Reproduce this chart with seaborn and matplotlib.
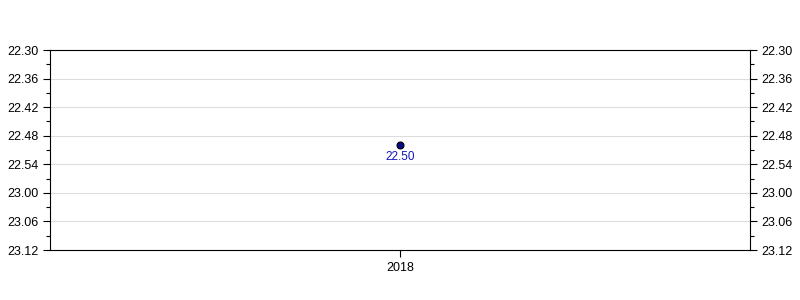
import matplotlib
matplotlib.use("Agg")
import matplotlib.pyplot as plt
import seaborn as sns
import pandas as pd
from matplotlib.ticker import FixedLocator, FuncFormatter, MultipleLocator

years = ["2018"]
times = ["22.50"]          # m.ss
tick_labels = ["22.30", "22.36", "22.42", "22.48", "22.54", "23.00", "23.06", "23.12"]

def to_sec(s):
    m, ss = s.split(".")
    return int(m) * 60 + int(ss)

def to_label(v, pos=None):
    v = int(round(v))
    return f"{v // 60}.{v % 60:02d}"

df = pd.DataFrame({"year": [int(y) for y in years], "sec": [to_sec(t) for t in times], "label": times})
ticks = [to_sec(t) for t in tick_labels]

sns.set_theme(style="white")
plt.rcParams["font.family"] = ["Liberation Sans", "DejaVu Sans"]

fig = plt.figure(figsize=(8, 3), dpi=100)
ax = fig.add_axes([50 / 800, 50 / 300, 700 / 800, 200 / 300])

sns.scatterplot(data=df, x="year", y="sec", ax=ax, s=25, color="#0a0a8c",
                edgecolor="black", linewidth=0.8, zorder=3, legend=False)
for _, r in df.iterrows():
    ax.annotate(r["label"], (r["year"], r["sec"]), xytext=(0, -4), textcoords="offset points",
                ha="center", va="top", color="#1414b8", fontsize=8.5)

ax.set_xlim(2017, 2019)
ax.set_xticks([int(y) for y in years])
ax.set_xticklabels(years)
ax.set_ylim(ticks[-1], ticks[0])
ax.yaxis.set_major_locator(FixedLocator(ticks))
ax.yaxis.set_major_formatter(FuncFormatter(to_label))
ax.yaxis.set_minor_locator(MultipleLocator(3))
ax.grid(axis="y", color="#dddddd", linewidth=0.8)
ax.set_axisbelow(True)
ax.set_xlabel("")
ax.set_ylabel("")

for sp in ax.spines.values():
    sp.set_visible(True)
    sp.set_color("black")
    sp.set_linewidth(0.8)

ax.tick_params(axis="y", which="major", left=True, right=True, labelleft=True, labelright=True,
               length=5, width=0.8, color="black", labelsize=9, labelcolor="black", direction="out")
ax.tick_params(axis="y", which="minor", left=True, right=True, length=3, width=0.8, color="black")
ax.tick_params(axis="x", which="major", bottom=True, length=5, width=0.8, color="black",
               labelsize=9, labelcolor="black")

fig.savefig("out.png", dpi=100)
